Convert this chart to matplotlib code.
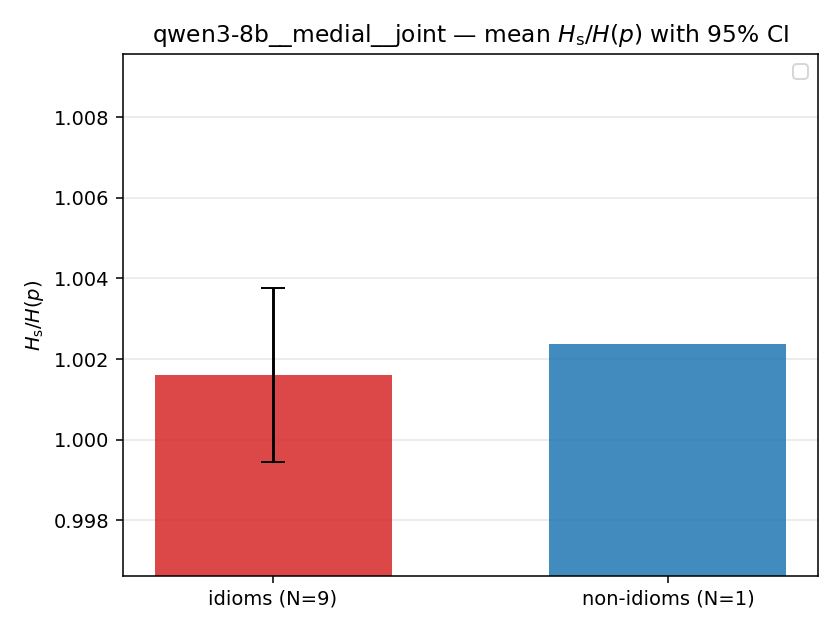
import matplotlib
matplotlib.use('Agg')
import matplotlib.pyplot as plt
import numpy as np

# Data
groups = ['idioms (N=9)', 'non-idioms (N=1)']
means = [1.00161, 1.00238]
ci_lo = [0.99945, np.nan]
ci_hi = [1.00377, np.nan]
colors = ['#d62728', '#1f77b4']
ylims = (0.99662, 1.009563)

fig, ax = plt.subplots(figsize=(6, 4.5), dpi=140)
x = np.arange(len(groups))
ax.bar(x, means, width=0.6, color=colors, alpha=0.85)

# only the group with N>1 gets a CI bar
yerr = np.array([[means[0] - ci_lo[0]], [ci_hi[0] - means[0]]])
ax.errorbar(x[0], means[0], yerr=yerr, fmt='none', ecolor='k', capsize=6, lw=1.5)

ax.set_xticks(x)
ax.set_xticklabels(groups)
ax.set_ylim(*ylims)
ax.set_ylabel(r'$H_{\mathrm{s}}/H(p)$')
ax.set_title(r'qwen3-8b__medial__joint — mean $H_{\mathrm{s}}/H(p)$ with 95% CI')
ax.yaxis.grid(True, alpha=0.3)
ax.set_axisbelow(True)
ax.legend(loc='upper right')

fig.subplots_adjust(left=0.1464, right=0.9738, top=0.9143, bottom=0.0857)
plt.savefig('out.png')
